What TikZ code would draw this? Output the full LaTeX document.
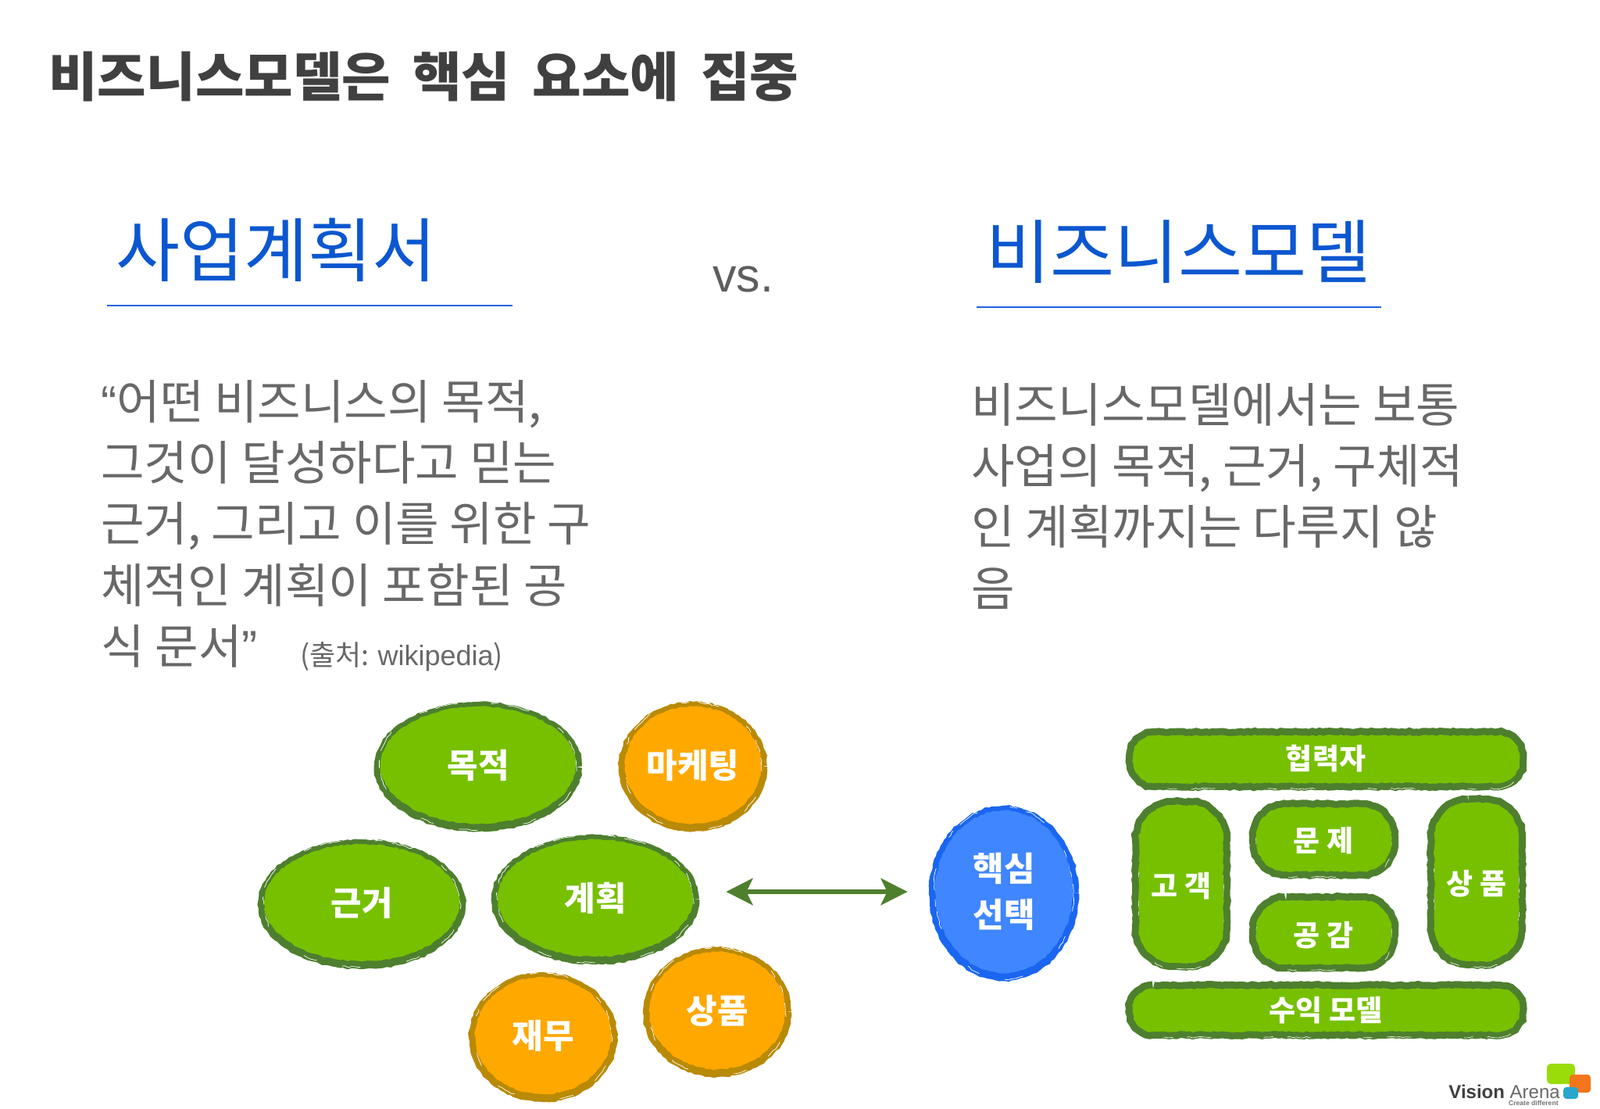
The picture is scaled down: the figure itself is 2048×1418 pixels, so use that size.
\documentclass[tikz,border=0pt]{standalone}
\usepackage{fontspec}
\setmainfont{Noto Sans CJK KR}
\newfontfamily\arialf{Liberation Sans}
\newfontfamily\ttlf[WordSpace=1.8]{Noto Sans CJK KR}
\usetikzlibrary{shapes.geometric,decorations.pathmorphing,arrows.meta}
\definecolor{ttl}{HTML}{404040}
\definecolor{hblue}{HTML}{0B57D0}
\definecolor{rule}{HTML}{1A66E0}
\definecolor{body}{HTML}{686868}
\definecolor{leaf}{HTML}{76C000}
\definecolor{leafd}{HTML}{4E7F2E}
\definecolor{amber}{HTML}{FFA800}
\definecolor{amberd}{HTML}{B98A06}
\definecolor{sky}{HTML}{3F86FF}
\definecolor{skyd}{HTML}{1A66F0}
\definecolor{lgreen}{HTML}{9ADC0A}
\definecolor{lorange}{HTML}{F4751C}
\definecolor{lcyan}{HTML}{2AA6CC}
\tikzset{
  rough/.style={decorate,decoration={random steps,segment length=2.2pt,amplitude=.45pt}},
  brush/.style n args={2}{
    rough,
    preaction={draw=#2,line width=8pt,transform canvas={yshift=-1pt}},
    preaction={draw=white,line width=.35pt,dash pattern=on 14pt off 6pt on 5pt off 22pt,transform canvas={yshift=2.6pt,xshift=-.6pt}},
    preaction={draw=white,line width=.35pt,dash pattern=on 9pt off 17pt on 12pt off 30pt,transform canvas={yshift=-4pt,xshift=.6pt}},
    fill=#1,text=white,font=\bfseries\fontsize{21.5}{29.5}\selectfont,inner sep=0pt,align=center},
  blob/.style n args={4}{ellipse,brush={#1}{#2},minimum width=#3,minimum height=#4},
  pillbody/.style={rough,
    preaction={draw=leafd,line width=9pt},
    preaction={draw=white,line width=.3pt,dash pattern=on 16pt off 9pt on 6pt off 34pt,transform canvas={yshift=-3.6pt}},
    fill=leaf},
  pilltext/.style={text=white,inner sep=0pt,font=\bfseries\fontsize{18.5}{24}\selectfont},
  ttltext/.style={anchor=base west,inner sep=0pt,text=ttl,font=\ttlf\bfseries\fontsize{34}{40}\selectfont},
  headtext/.style={anchor=base west,inner sep=0pt,text=hblue,font=\fontsize{44.6}{50}\selectfont},
  bodytext/.style={anchor=north west,inner sep=0pt,text=body,align=left,font=\fontsize{30.2}{39.15}\selectfont},
  headrule/.style={draw=rule,line width=1.3pt},
  link/.style={draw=leafd,line width=3.4pt,{Stealth[length=17pt,width=17pt,inset=4pt]}-{Stealth[length=17pt,width=17pt,inset=4pt]}}
}
% rounded outline built from straight runs and Bezier corners, so that it can be roughened
\newcommand\pillshape[5]{% x0,y0,x1,y1,r
  \pgfmathsetmacro\kk{#5*0.448}
  \path[pillbody] (#1+#5,#2) -- (#3-#5,#2)
    .. controls (#3-\kk,#2) and (#3,#2+\kk) .. (#3,#2+#5) -- (#3,#4-#5)
    .. controls (#3,#4-\kk) and (#3-\kk,#4) .. (#3-#5,#4) -- (#1+#5,#4)
    .. controls (#1+\kk,#4) and (#1,#4-\kk) .. (#1,#4-#5) -- (#1,#2+#5)
    .. controls (#1,#2+\kk) and (#1+\kk,#2) .. (#1+#5,#2) -- cycle;
}
\begin{document}
\begin{tikzpicture}[x=0.5pt,y=-0.5pt]
\useasboundingbox (0,0) rectangle (2048,1418);
\node[ttltext] (title) at (62,123) {비즈니스모델은 핵심 요소에 집중};
\node[headtext] (h1) at (148,353) {사업계획서};
\node[headtext] (h2) at (1262,355) {비즈니스모델};
\coordinate (r1a) at (137,391); \coordinate (r1b) at (656,391);
\coordinate (r2a) at (1250,393); \coordinate (r2b) at (1768,393);
\draw[headrule] (r1a) -- (r1b);
\draw[headrule] (r2a) -- (r2b);
\node[anchor=base,inner sep=0pt,text=body!90!black,font=\arialf\fontsize{30.5}{36}\selectfont] (vs) at (951,373) {vs.};
\node[bodytext] (left) at (129,486) {{\arialf “}어떤 비즈니스의 목적,\\그것이 달성하다고 믿는\\근거, 그리고 이를 위한 구\\체적인 계획이 포함된 공\\식 문서{\arialf ”}};
\node[bodytext] (right) at (1243,490) {비즈니스모델에서는 보통\\사업의 목적, 근거, 구체적\\인 계획까지는 다루지 않\\음};
\node[anchor=base west,inner sep=0pt,text=body,font=\fontsize{18}{22}\selectfont] (src) at (384,851) {(출처: {\arialf wikipedia})};
% left cluster
\node[blob={leaf}{leafd}{125pt}{75pt}] (mok) at (612,979) {\raisebox{1pt}{목적}};
\node[blob={amber}{amberd}{87pt}{75pt}] (mkt) at (887,979) {\raisebox{1pt}{마케팅}};
\node[blob={leaf}{leafd}{125pt}{75pt}] (gen) at (463,1155) {근거};
\node[blob={leaf}{leafd}{125pt}{75pt}] (plan) at (762,1149) {계획};
\node[blob={amber}{amberd}{87pt}{75pt}] (fin) at (695,1325) {재무};
\node[blob={amber}{amberd}{87pt}{75pt}] (prod) at (918,1293) {상품};
% core
\node[blob={sky}{skyd}{88pt}{104pt}] (core) at (1285,1141) {핵심\\선택};
\draw[link,shorten <=21pt,shorten >=17.5pt] ([yshift=4pt]plan.east) -- ([yshift=4pt]plan.east -| core.west);
% right grid
\pillshape{1450}{941}{1945}{1002}{28}
\pillshape{1458}{1030}{1566}{1232}{44}
\pillshape{1608}{1033}{1781}{1115}{38}
\pillshape{1608}{1152}{1781}{1234}{38}
\pillshape{1836}{1027}{1944}{1230}{44}
\pillshape{1450}{1265}{1945}{1320}{26}
\node[pilltext] (p1) at (1697,970) {협력자};
\node[pilltext] (p2) at (1512,1134) {고 객};
\node[pilltext] (p3) at (1694,1076) {문 제};
\node[pilltext] (p4) at (1694,1197) {공 감};
\node[pilltext] (p5) at (1890,1131) {상 품};
\node[pilltext] (p6) at (1697,1293) {수익 모델};
% logo
\fill[rounded corners=2.5pt,fill=lgreen] (1980,1361) rectangle (2016,1387);
\fill[rounded corners=2pt,fill=lorange] (2009,1375) rectangle (2036,1398);
\fill[rounded corners=2pt,fill=lcyan] (2001,1391) rectangle (2020,1406);
\node[anchor=base west,inner sep=0pt,text=ttl,font=\arialf\fontsize{12}{14}\selectfont] (logo) at (1854,1405) {\textbf{Vision} {\color{body}Arena}};
\node[anchor=base east,inner sep=0pt,text=black!55,font=\arialf\bfseries\fontsize{4.3}{5}\selectfont] (logos) at (1995,1414) {Create different};
\end{tikzpicture}
\end{document}
